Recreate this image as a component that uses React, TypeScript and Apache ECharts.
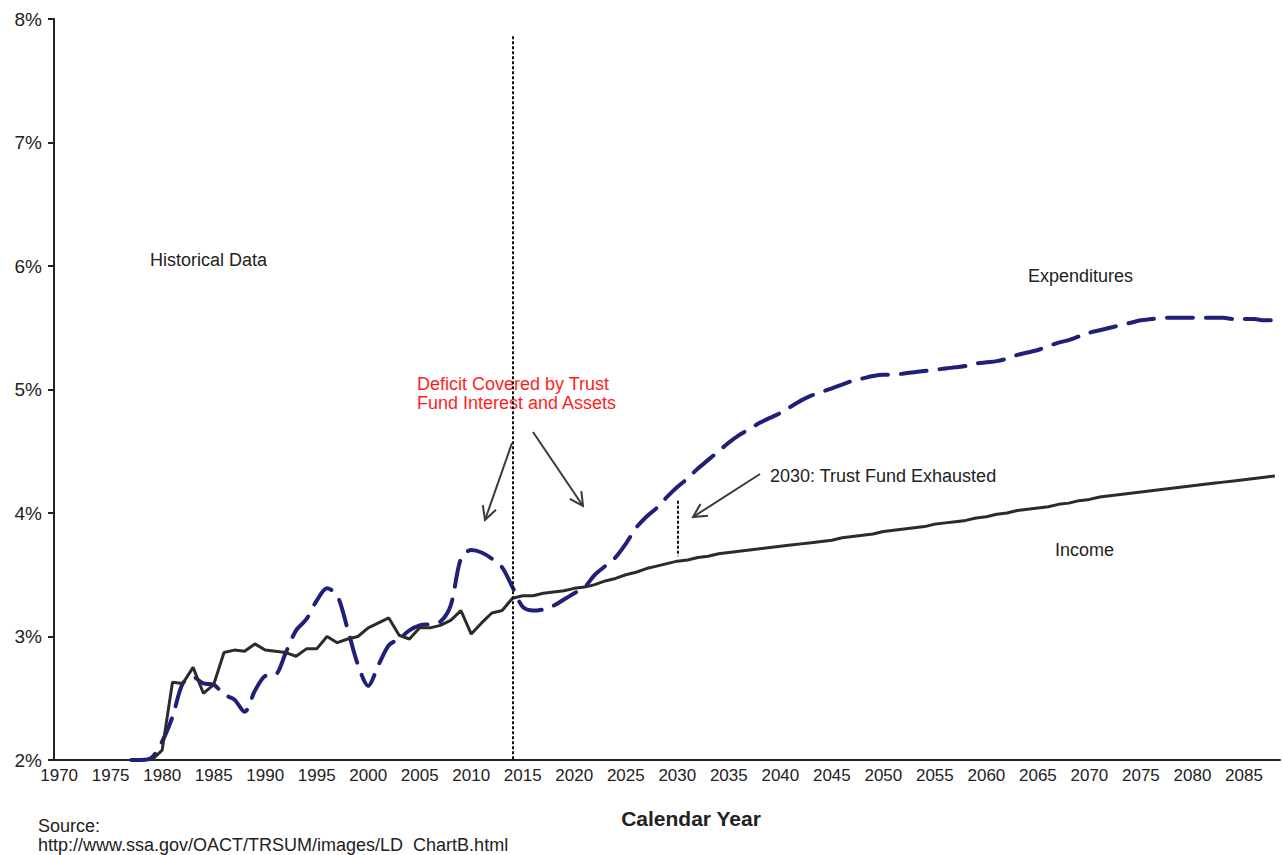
import React, { useEffect, useRef } from "react";
import * as echarts from "echarts";

// Categories: calendar years 1970..2088
const startYear = 1970;
const endYear = 2088;
const years: string[] = [];
for (let y = startYear; y <= endYear; y++) years.push(String(y));

// Income as % of GDP, 1979..2088 (historical then projected)
const incomeStart = 1979;
const incomeValues = [
  2.0, 2.08, 2.63, 2.62, 2.75, 2.54, 2.61, 2.87, 2.89, 2.88, // 1979-1988
  2.94, 2.89, 2.88, 2.87, 2.84, 2.9, 2.9, 3.0, 2.95, 2.98, // 1989-1998
  3.0, 3.07, 3.11, 3.15, 3.01, 2.98, 3.07, 3.07, 3.09, 3.13, // 1999-2008
  3.21, 3.02, 3.11, 3.19, 3.21, 3.31, 3.33, 3.33, 3.35, 3.36, // 2009-2018
  3.37, 3.39, 3.4, 3.42, 3.45, 3.47, 3.5, 3.52, 3.55, 3.57, // 2019-2028
  3.59, 3.61, 3.62, 3.64, 3.65, 3.67, 3.68, 3.69, 3.7, 3.71, // 2029-2038
  3.72, 3.73, 3.74, 3.75, 3.76, 3.77, 3.78, 3.8, 3.81, 3.82, // 2039-2048
  3.83, 3.85, 3.86, 3.87, 3.88, 3.89, 3.91, 3.92, 3.93, 3.94, // 2049-2058
  3.96, 3.97, 3.99, 4.0, 4.02, 4.03, 4.04, 4.05, 4.07, 4.08, // 2059-2068
  4.1, 4.11, 4.13, 4.14, 4.15, 4.16, 4.17, 4.18, 4.19, 4.2, // 2069-2078
  4.21, 4.22, 4.23, 4.24, 4.25, 4.26, 4.27, 4.28, 4.29, 4.3, // 2079-2088
];

// Expenditures as % of GDP, 1977..2088
const expStart = 1977;
const expValues = [
  2.0, 2.0, 2.02, 2.15, 2.35, 2.62, 2.67, 2.62, 2.61, 2.53, // 1977-1986
  2.49, 2.39, 2.56, 2.68, 2.69, 2.87, 3.05, 3.14, 3.29, 3.39, // 1987-1996
  3.33, 3.06, 2.77, 2.6, 2.77, 2.93, 2.98, 3.05, 3.09, 3.1, // 1997-2006
  3.12, 3.25, 3.63, 3.7, 3.68, 3.63, 3.56, 3.4, 3.24, 3.21, // 2007-2016
  3.22, 3.25, 3.3, 3.35, 3.4, 3.5, 3.57, 3.64, 3.75, 3.88, // 2017-2026
  3.97, 4.04, 4.13, 4.21, 4.28, 4.36, 4.43, 4.5, 4.57, 4.63, // 2027-2036
  4.68, 4.73, 4.77, 4.81, 4.86, 4.91, 4.95, 4.98, 5.01, 5.04, // 2037-2046
  5.07, 5.09, 5.11, 5.12, 5.12, 5.13, 5.14, 5.15, 5.16, 5.17, // 2047-2056
  5.18, 5.19, 5.21, 5.22, 5.23, 5.25, 5.28, 5.3, 5.32, 5.35, // 2057-2066
  5.38, 5.4, 5.43, 5.46, 5.48, 5.5, 5.52, 5.54, 5.56, 5.57, // 2067-2076
  5.58, 5.58, 5.58, 5.58, 5.58, 5.58, 5.58, 5.57, 5.57, 5.57, // 2077-2086
  5.56, 5.56, // 2087-2088
];

const yTicks = { min: 2, max: 8, interval: 1 };
const historicalEndYear = "2014";
const exhaustionYear = "2030";

function pad(start: number, values: number[]): (number | null)[] {
  const out: (number | null)[] = [];
  for (let y = startYear; y < start; y++) out.push(null);
  return out.concat(values);
}

const FONT = "'Liberation Sans', Arial, sans-serif";

function arrow(x1: number, y1: number, x2: number, y2: number) {
  const ang = Math.atan2(y2 - y1, x2 - x1);
  const L = 15;
  const a = Math.PI / 6.5;
  return [
    { type: "line", shape: { x1, y1, x2, y2 }, style: { stroke: "#3a3a3a", lineWidth: 2 } },
    {
      type: "polyline",
      shape: {
        points: [
          [x2 - L * Math.cos(ang - a), y2 - L * Math.sin(ang - a)],
          [x2, y2],
          [x2 - L * Math.cos(ang + a), y2 - L * Math.sin(ang + a)],
        ],
      },
      style: { stroke: "#3a3a3a", lineWidth: 2, fill: null },
    },
  ];
}

function txt(text: string, x: number, y: number, opts: any = {}) {
  return {
    type: "text",
    x,
    y,
    style: {
      text,
      fill: opts.fill || "#222",
      font: opts.font || `18px ${FONT}`,
      align: opts.align || "left",
      verticalAlign: "middle",
    },
  };
}

export default function App() {
  const ref = useRef<HTMLDivElement>(null);
  useEffect(() => {
    if (!ref.current) return;
    const chart = echarts.init(ref.current, null, { renderer: "svg" });
    const option: any = {
      animation: false,
      backgroundColor: "#ffffff",
      grid: { left: 54, right: 3, top: 19, bottom: 95 },
      xAxis: {
        type: "category",
        data: years,
        boundaryGap: true,
        axisLine: { lineStyle: { color: "#222", width: 2 } },
        axisTick: { interval: 4, length: 6, lineStyle: { color: "#222", width: 2 } },
        axisLabel: {
          interval: 4,
          margin: 7,
          color: "#222",
          fontFamily: FONT,
          fontSize: 17,
        },
        splitLine: { show: false },
      },
      yAxis: {
        type: "value",
        min: yTicks.min,
        max: yTicks.max,
        interval: yTicks.interval,
        axisLine: { show: true, lineStyle: { color: "#222", width: 2 } },
        axisTick: { show: true, length: 6, lineStyle: { color: "#222", width: 2 } },
        axisLabel: {
          formatter: "{value}%",
          color: "#222",
          fontFamily: FONT,
          fontSize: 19,
          margin: 12,
        },
        splitLine: { show: false },
      },
      series: [
        {
          name: "Expenditures",
          type: "line",
          data: pad(expStart, expValues),
          showSymbol: false,
          smooth: 0.3,
          lineStyle: { color: "#20207a", width: 4, type: [26, 13], cap: "round" },
          z: 3,
        },
        {
          name: "Income",
          type: "line",
          data: pad(incomeStart, incomeValues),
          showSymbol: false,
          lineStyle: { color: "#2b2b2b", width: 3 },
          z: 4,
          markLine: {
            silent: true,
            symbol: ["none", "none"],
            label: { show: false },
            lineStyle: { color: "#111", width: 2, type: [3, 2] },
            data: [
              [{ coord: [historicalEndYear, 7.86] }, { coord: [historicalEndYear, 2] }],
              [{ coord: [exhaustionYear, 4.1] }, { coord: [exhaustionYear, 3.65] }],
            ],
          },
        },
      ],
      graphic: [
        txt("Historical Data", 150, 260),
        txt("Expenditures", 1028, 276),
        txt("Income", 1055, 550),
        txt("2030: Trust Fund Exhausted", 770, 476),
        txt("Deficit Covered by Trust", 417, 384, { fill: "#ff1e1e" }),
        txt("Fund Interest and Assets", 417, 403, { fill: "#ff1e1e" }),
        ...arrow(512, 443, 485, 520),
        ...arrow(533, 432, 583, 506),
        ...arrow(760, 474, 693, 517),
        txt("Calendar Year", 691, 818, { font: `bold 21px ${FONT}`, align: "center" }),
        txt("Source:", 38, 826, { font: `18px ${FONT}` }),
        txt("http://www.ssa.gov/OACT/TRSUM/images/LD  ChartB.html", 38, 845, { font: `18px ${FONT}` }),
      ],
    };
    chart.setOption(option);
    return () => chart.dispose();
  }, []);
  return (
    <div
      ref={ref}
      style={{ position: "absolute", left: 0, top: 0, width: 1283, height: 855, background: "#fff" }}
    />
  );
}
